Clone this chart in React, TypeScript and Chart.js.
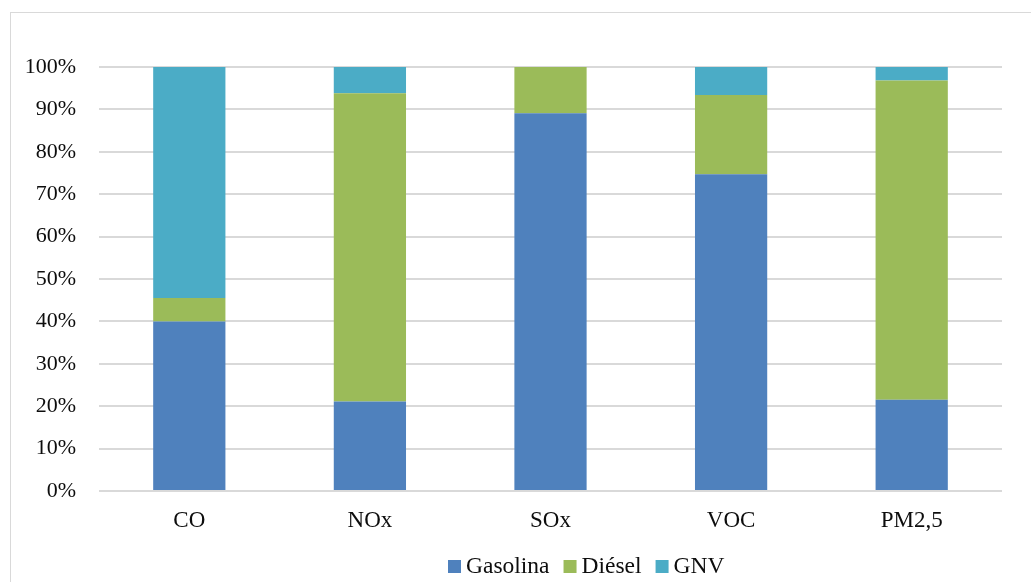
import React, { useEffect, useRef } from "react";
import { Chart, registerables } from "chart.js";

Chart.register(...registerables);

// Pollutants shown on the category axis
const categories = ["CO", "NOx", "SOx", "VOC", "PM2,5"];

// Share of each pollutant by fuel type (%)
const gasolina = [40.0, 21.1, 89.1, 74.7, 21.5];
const diesel = [5.5, 72.7, 10.9, 18.7, 75.3];
const gnv = [54.5, 6.2, 0.0, 6.6, 3.2];

const seriesNames = ["Gasolina", "Diésel", "GNV"];
const seriesColors = ["#4F81BD", "#9BBB59", "#4BACC6"];

const FONT = "'Liberation Serif', 'Times New Roman', serif";
const TEXT_COLOR = "#0d0d0d";

// Compact legend row under the axis: square swatch, small gap, label
const bottomLegend = {
  id: "bottomLegend",
  afterDraw(chart: any) {
    const ctx = chart.ctx as CanvasRenderingContext2D;
    const box = 13;
    const gap = 5;
    const itemGap = 14;
    const baseline = 560;
    ctx.save();
    ctx.font = `23.5px ${FONT}`;
    ctx.textBaseline = "alphabetic";
    ctx.textAlign = "left";
    let x = 437;
    chart.data.datasets.forEach((ds: any) => {
      ctx.fillStyle = ds.backgroundColor;
      ctx.fillRect(x, baseline - box, box, box);
      x += box + gap;
      ctx.fillStyle = TEXT_COLOR;
      ctx.fillText(ds.label, x, baseline);
      x += ctx.measureText(ds.label).width + itemGap;
    });
    ctx.restore();
  },
};

export default function App() {
  const canvasRef = useRef<HTMLCanvasElement | null>(null);

  useEffect(() => {
    const canvas = canvasRef.current;
    if (!canvas) return;
    const values = [gasolina, diesel, gnv];
    const chart = new Chart(canvas, {
      type: "bar",
      data: {
        labels: categories,
        datasets: seriesNames.map((name, i) => ({
          label: name,
          data: values[i],
          backgroundColor: seriesColors[i],
          borderWidth: 0,
          barPercentage: 0.4,
          categoryPercentage: 1,
        })),
      },
      options: {
        responsive: false,
        animation: false,
        maintainAspectRatio: false,
        layout: { padding: { left: 0, right: 30, top: 54, bottom: 0 } },
        plugins: {
          legend: { display: false },
          tooltip: { enabled: false },
        },
        scales: {
          x: {
            stacked: true,
            grid: { display: false, drawTicks: false },
            border: { display: false },
            ticks: {
              color: TEXT_COLOR,
              padding: 16,
              font: { family: FONT, size: 23 },
            },
            afterFit: (scale: any) => {
              scale.height = 91;
            },
          },
          y: {
            stacked: true,
            min: 0,
            max: 100,
            grid: { color: "#D9D9D9", lineWidth: 2, drawTicks: false },
            border: { display: false },
            ticks: {
              stepSize: 10,
              color: TEXT_COLOR,
              padding: 23,
              font: { family: FONT, size: 22 },
              callback: (v: any) => `${v}%`,
            },
            afterFit: (scale: any) => {
              scale.width = 88;
            },
          },
        },
      },
      plugins: [bottomLegend],
    });
    return () => chart.destroy();
  }, []);

  return (
    <div
      style={{
        position: "absolute",
        left: 10,
        top: 12,
        width: 1040,
        height: 590,
        border: "1px solid #D9D9D9",
        background: "#fff",
      }}
    >
      <canvas ref={canvasRef} width={1021} height={569} style={{ display: "block" }} />
    </div>
  );
}
